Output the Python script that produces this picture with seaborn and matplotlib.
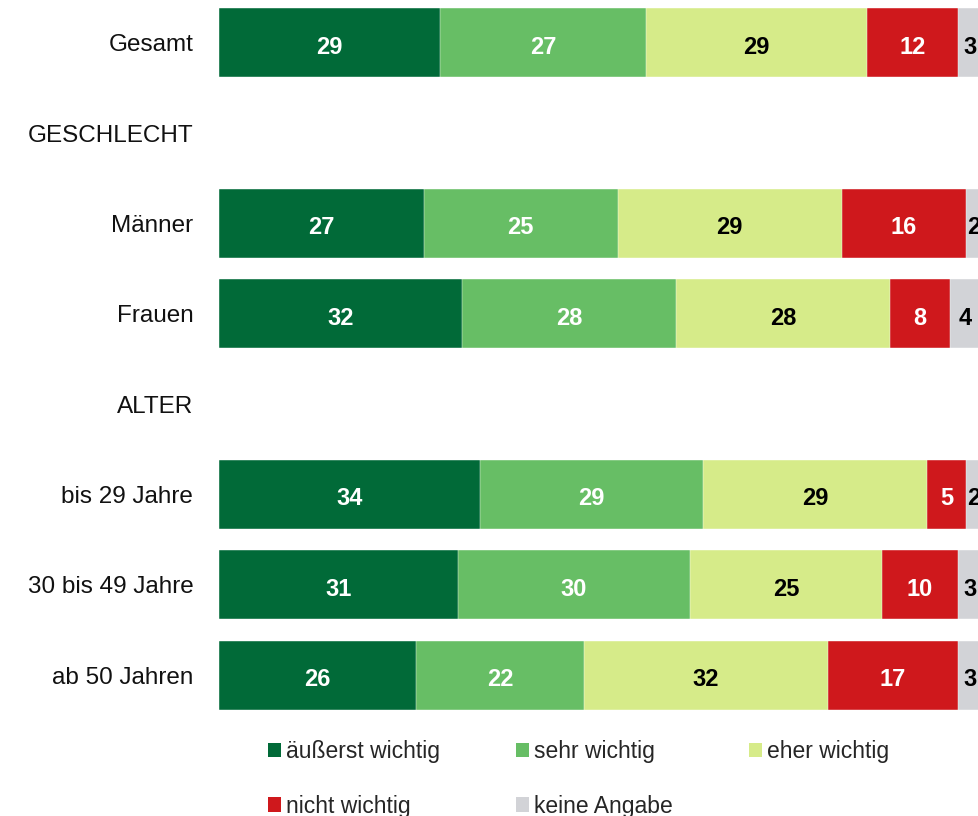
import numpy as np
import pandas as pd
import matplotlib
matplotlib.use("Agg")
import matplotlib.pyplot as plt
from matplotlib.patches import Patch
import seaborn as sns

# ---------------- data ----------------
categories = ["Gesamt", "GESCHLECHT", "Männer", "Frauen", "ALTER",
              "bis 29 Jahre", "30 bis 49 Jahre", "ab 50 Jahren"]
groups = ["Gesamt", "Männer", "Frauen", "bis 29 Jahre", "30 bis 49 Jahre", "ab 50 Jahren"]
segments = ["äußerst wichtig", "sehr wichtig", "eher wichtig", "nicht wichtig", "keine Angabe"]
aeusserst_wichtig = [29.0, 26.9, 31.9, 34.2, 31.4, 25.9]
sehr_wichtig = [27.0, 25.4, 28.1, 29.3, 30.4, 22.0]
eher_wichtig = [29.0, 29.4, 28.1, 29.4, 25.2, 32.0]
nicht_wichtig = [12.0, 16.3, 7.8, 5.1, 10.0, 17.1]
keine_angabe = [3.0, 2.0, 4.1, 2.0, 3.0, 3.0]

colors = ["#016a38", "#67be65", "#d6eb89", "#cf181c", "#d2d3d7"]
label_colors = ["white", "white", "black", "white", "black"]

series = [aeusserst_wichtig, sehr_wichtig, eher_wichtig, nicht_wichtig, keine_angabe]

# ---------------- figure ----------------
sns.set_theme(style="white")
plt.rcParams["font.family"] = ["Liberation Sans", "DejaVu Sans"]

fig = plt.figure(figsize=(9.79, 8.16), dpi=100)
ax = fig.add_axes([219 / 979, 0.1174, 762 / 979, 0.8853])

vals = np.array(series)            # shape (5, 6)
cum = np.cumsum(vals, axis=0)
left = cum - vals

# draw cumulative bars from largest to smallest so they stack visually
for i in range(len(segments) - 1, -1, -1):
    df = pd.DataFrame({"cat": groups, "value": cum[i]})
    sns.barplot(data=df, x="value", y="cat", order=categories, orient="h",
                color=colors[i], saturation=1, width=0.764, ax=ax,
                edgecolor="white", linewidth=0.3)

# value labels
pos = {c: k for k, c in enumerate(categories)}
for i in range(len(segments)):
    for j, g in enumerate(groups):
        ax.text(left[i, j] + vals[i, j] / 2, pos[g] + 0.02, f"{vals[i, j]:.0f}",
                ha="center", va="center_baseline", fontsize=17, fontweight="bold",
                color=label_colors[i])

ax.set_xlim(0, 100)
ax.set_ylim(7.5, -0.5)
ax.set_xlabel("")
ax.set_ylabel("")
ax.set_xticks([])
ax.set_yticks(range(len(categories)))
ax.set_yticklabels(categories, fontsize=17.5, color="#111111")
ax.tick_params(axis="y", length=0, pad=18.5)
for s in ax.spines.values():
    s.set_visible(False)

# legend (column-first filling -> order for rows)
order = [0, 3, 1, 4, 2]
handles = [Patch(facecolor=colors[k], edgecolor="none", label=segments[k]) for k in order]
fig.legend(handles=handles, loc="upper left", bbox_to_anchor=(268 / 979, 1 - 740 / 816),
           ncol=3, frameon=False, fontsize=16.5, handlelength=0.57, handleheight=0.57,
           handletextpad=0.22, columnspacing=3.32, labelspacing=1.38, borderpad=0,
           borderaxespad=0)

fig.savefig("out.png", dpi=100)
